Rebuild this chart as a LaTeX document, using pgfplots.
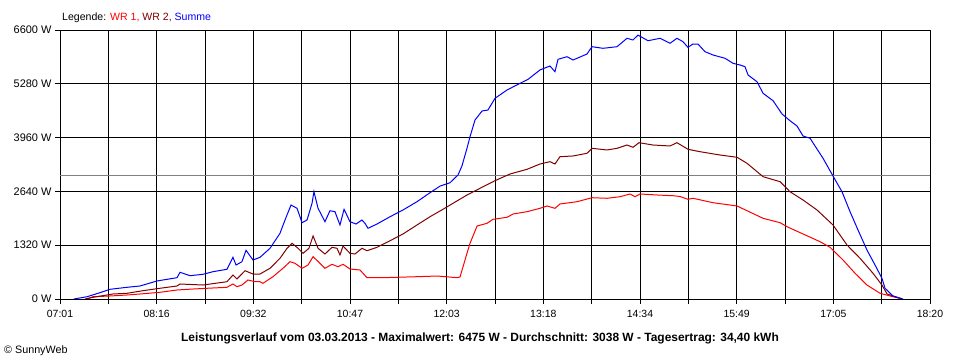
\documentclass[border=0pt]{standalone}
\usepackage{fontspec}
\setmainfont{Liberation Sans}
\usepackage{pgfplots}
\pgfplotsset{compat=1.18}
\definecolor{wrone}{RGB}{255,0,0}
\definecolor{wrtwo}{RGB}{128,0,0}
\definecolor{summe}{RGB}{0,0,255}
\definecolor{avg}{RGB}{128,128,128}
\begin{document}
\begin{tikzpicture}
\path[use as bounding box] (0bp,0bp) rectangle (960bp,360bp);
\begin{axis}[
  at={(60bp,61bp)}, anchor=south west,
  scale only axis, width=870bp, height=269bp,
  xmin=421, xmax=1100, ymin=0, ymax=6600,
  xtick={421,496.44,571.89,647.33,722.78,798.22,873.67,949.11,1024.56,1100},
  xticklabels={07:01,08:16,09:32,10:47,12:03,13:18,14:34,15:49,17:05,18:20},
  minor xtick={458.72,534.17,609.61,685.06,760.5,835.94,911.39,986.83,1062.28},
  ytick={0,1320,2640,3960,5280,6600},
  yticklabels={0 W,1320 W,2640 W,3960 W,5280 W,6600 W},
  xtick pos=lower, ytick pos=left,
  grid=both,
  major grid style={black, line width=0.9pt},
  minor grid style={black, line width=0.9pt},
  tick align=outside, major tick length=5bp, minor tick length=5bp,
  tick style={black, line width=0.9pt},
  axis line style={black, line width=0.9pt},
  xticklabel style={font=\fontsize{10.5}{12}\selectfont, yshift=-3bp},
  yticklabel style={font=\fontsize{11}{12}\selectfont},
  /pgf/number format/assume math mode=true,
  clip=true,
]
\addplot[avg, line width=0.9pt] coordinates {(421,3038) (1100,3038)};
\addplot[wrone, line width=1pt] coordinates {
(442.1,0) (446.8,56) (460.0,74) (473.3,98) (483.4,123) (499.0,164) (512.3,221)
(524.8,245) (535.7,263) (551.3,287) (556.0,368) (559.1,302) (563.0,343) (567.7,466)
(573.2,424) (577.1,424) (579.4,385) (587.2,547) (595.0,753) (600.5,915) (604.4,876)
(609.9,753) (614.6,834) (618.5,1038) (623.9,876) (627.8,753) (633.3,851) (638.0,792)
(641.9,851) (647.3,736) (655.1,712) (660.6,523) (673.1,523) (699.6,547) (715.2,564)
(730.8,523) (733.2,540) (737.1,957) (739.4,1202) (741.0,1367) (746.5,1791) (754.3,1857)
(758.9,1955) (769.9,2005) (774.6,2085) (785.5,2142) (795.6,2225) (801.1,2282) (807.3,2225)
(811.2,2331) (824.5,2387) (836.2,2485) (847.9,2471) (858.1,2510) (865.9,2576) (869.8,2510)
(873.7,2576) (886.9,2552) (899.4,2534) (904.9,2515) (911.1,2446) (915.0,2471) (930.6,2363)
(949.4,2282) (957.2,2166) (969.7,1980) (983.0,1872) (988.4,1774) (1000.9,1595) (1014.2,1406)
(1022.0,1268) (1032.1,957) (1041.5,631) (1050.8,343) (1061.0,140) (1071.1,56) (1078.2,0)
};
\addplot[wrtwo, line width=1pt] coordinates {
(440.5,0) (446.8,42) (462.4,123) (473.3,140) (485.8,204) (499.0,263) (512.3,319)
(514.7,368) (532.6,343) (551.3,424) (556.0,589) (559.1,491) (565.4,694) (571.6,613)
(577.1,613) (584.9,753) (592.7,999) (598.2,1244) (602.1,1367) (606.8,1244) (610.7,1121)
(615.3,1244) (618.5,1546) (622.4,1244) (627.8,1104) (633.3,1268) (637.2,1244) (639.5,1080)
(641.9,1300) (647.3,1121) (651.2,1104) (656.7,1244) (660.6,1185) (668.4,1268) (678.6,1430)
(688.7,1595) (699.6,1816) (709.8,2019) (719.9,2201) (727.7,2348) (738.7,2552) (748.8,2716)
(760.5,2903) (772.2,3067) (785.5,3182) (795.6,3312) (803.4,3369) (807.3,3312) (811.2,3491)
(821.4,3509) (832.3,3575) (836.2,3697) (847.9,3656) (855.7,3697) (863.5,3778) (868.2,3722)
(872.9,3835) (883.8,3778) (897.1,3754) (902.5,3835) (911.1,3673) (920.5,3614) (936.1,3533)
(949.4,3477) (957.2,3329) (969.7,3001) (983.0,2878) (990.7,2633) (1000.9,2429) (1011.8,2184)
(1024.3,1816) (1035.2,1325) (1045.4,999) (1055.5,631) (1062.5,343) (1066.5,123) (1078.2,0)
};
\addplot[summe, line width=1pt] coordinates {
(431.9,0) (442.1,56) (452.2,155) (460.0,238) (473.3,287) (483.4,319) (496.7,442)
(512.3,523) (514.7,655) (522.5,572) (532.6,606) (540.4,670) (551.3,729) (556.0,1023)
(558.4,834) (563.0,915) (566.2,1195) (571.6,957) (577.1,1023) (584.9,1244) (592.7,1612)
(596.6,1938) (601.3,2306) (606.0,2225) (609.9,1872) (613.8,1938) (617.7,2348) (619.2,2633)
(622.4,2225) (627.8,1897) (631.7,2166) (635.6,2142) (639.5,1816) (642.7,2201) (647.3,1897)
(652.0,1840) (656.7,1938) (659.0,1857) (661.4,1735) (668.4,1840) (678.6,2019) (688.7,2184)
(699.6,2387) (709.8,2608) (717.6,2770) (725.4,2853) (731.6,3042) (734.7,3263) (738.7,3705)
(741.0,3982) (744.9,4392) (750.4,4613) (755.0,4637) (760.5,4924) (769.9,5128) (780.0,5292)
(786.3,5390) (795.6,5619) (803.4,5717) (807.3,5577) (809.7,5881) (816.7,5945) (821.4,5864)
(832.3,6011) (836.2,6190) (844.8,6151) (855.7,6190) (863.5,6396) (868.2,6355) (872.1,6475)
(879.9,6337) (889.3,6396) (897.1,6274) (902.5,6396) (907.2,6313) (911.1,6175) (915.0,6256)
(918.9,6256) (924.4,6068) (930.6,5987) (940.0,5906) (946.3,5783) (951.7,5741) (955.6,5700)
(958.0,5496) (965.0,5331) (969.7,5047) (977.5,4865) (984.5,4539) (990.7,4375) (996.2,4245)
(1000.9,3999) (1006.4,3943) (1011.8,3680) (1016.5,3452) (1024.3,3018) (1031.3,2633) (1037.6,2142)
(1043.8,1693) (1050.8,1202) (1057.1,834) (1062.5,508) (1064.9,263) (1071.1,74) (1078.9,0)
};
\end{axis}
\node[anchor=base west, inner sep=0pt, font=\fontsize{10.6}{12}\selectfont] at (62bp,339bp)
  {Legende: \textcolor{wrone}{WR 1,} \textcolor{wrtwo}{WR 2,} \textcolor{summe}{Summe}};
\node[anchor=base, inner sep=0pt, font=\bfseries\fontsize{12}{14}\selectfont] at (480bp,19bp)
  {Leistungsverlauf vom 03.03.2013 - Maximalwert: 6475 W - Durchschnitt: 3038 W - Tagesertrag: 34,40 kWh};
\node[anchor=base west, inner sep=0pt, font=\fontsize{10.8}{12}\selectfont] at (4bp,7bp)
  {\textcopyright{} SunnyWeb};
\end{tikzpicture}
\end{document}
